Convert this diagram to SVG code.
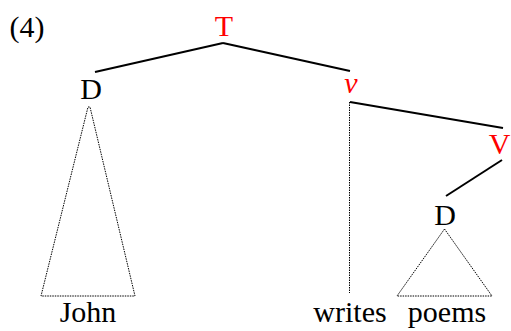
<svg xmlns="http://www.w3.org/2000/svg" width="511" height="331" viewBox="0 0 511 331">
  <style>
    text { font-family: "Liberation Serif", "DejaVu Serif", serif; font-size: 30px; text-anchor: middle; fill: #000; }
    .cat { fill: #ff0000; }
    .edge { stroke: #000; stroke-width: 2; fill: none; }
    .dots { stroke: #000; stroke-width: 1; stroke-dasharray: 1.5 1; fill: none; }
  </style>
  <rect width="511" height="331" fill="#fff"/>
  <text x="27" y="37">(4)</text>

  <g id="connectors">
    <line class="edge" x1="223" y1="43" x2="95" y2="72"/>
    <line class="edge" x1="223" y1="43" x2="350" y2="71"/>
    <line class="edge" x1="350" y1="102" x2="503" y2="128"/>
    <line class="edge" x1="502" y1="160" x2="446" y2="196"/>
    <line class="dots" x1="349.5" y1="102" x2="349.5" y2="293"/>
    <polygon class="dots" points="88,107 90,107 135,296 41,296"/>
    <polygon class="dots" points="444.5,229 492,296 397,296"/>
  </g>

  <g id="node-T"><text class="cat" x="224" y="36">T</text></g>
  <g id="node-D1"><text x="91" y="99">D</text></g>
  <g id="node-v"><text class="cat" x="351" y="93" font-style="italic">v</text></g>
  <g id="node-V"><text class="cat" x="499.5" y="154">V</text></g>
  <g id="node-D2"><text x="445" y="225">D</text></g>
  <g id="leaf-john"><text x="88" y="322">John</text></g>
  <g id="leaf-writes"><text x="350" y="322">writes</text></g>
  <g id="leaf-poems"><text x="447" y="322">poems</text></g>
</svg>
